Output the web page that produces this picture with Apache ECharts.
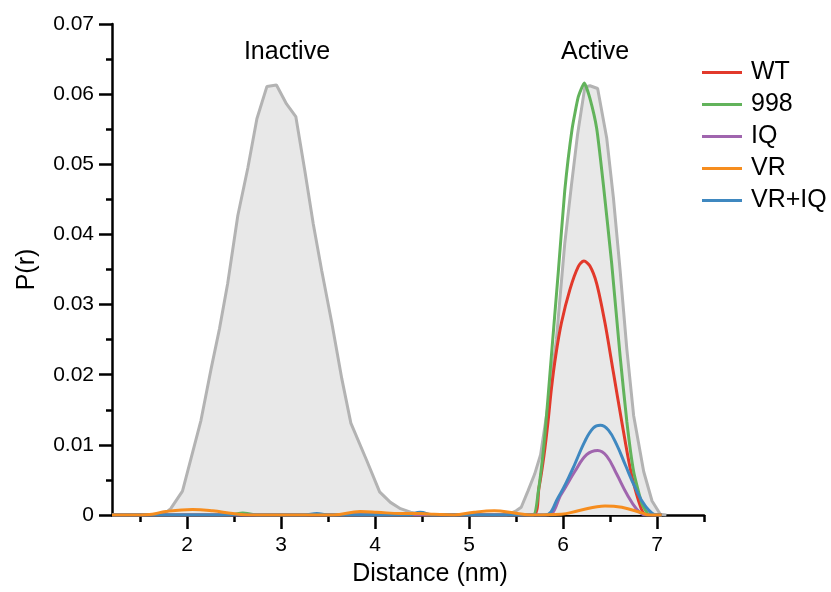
<!DOCTYPE html>
<html>
<head>
<meta charset="utf-8">
<script src="https://cdn.jsdelivr.net/npm/echarts@6/dist/echarts.min.js"></script>
<style>
html,body{margin:0;padding:0;background:#fff;}
#chart{width:831px;height:592px;}
</style>
</head>
<body>
<div id="chart"></div>
<script>
// ---- data (x in nm, y = P(r)) ----
const legendNames = ['WT', '998', 'IQ', 'VR', 'VR+IQ'];
const xTickLabels = [2, 3, 4, 5, 6, 7];
const xMinorTicks = [1.5, 2.5, 3.5, 4.5, 5.5, 6.5, 7.5];
const annotations = ['Inactive', 'Active'];

const envelope = [
  [1.2,0],[1.75,0.0001],[1.825,0.0009],[1.95,0.0034],[2.147,0.0135],[2.254,0.0208],
  [2.343,0.0265],[2.431,0.0330],[2.539,0.0427],[2.646,0.0495],[2.742,0.0565],
  [2.849,0.0611],[2.950,0.0613],[3.057,0.0586],[3.156,0.0568],[3.253,0.0490],
  [3.342,0.0415],[3.431,0.0349],[3.539,0.0274],[3.646,0.0194],[3.742,0.0131],
  [3.913,0.0077],[4.048,0.0033],[4.163,0.0018],[4.270,0.0009],[4.377,0.0004],
  [4.5,0.0001],[5.40,0],[5.501,0.0006],[5.555,0.0011],[5.626,0.0034],[5.697,0.0058],
  [5.761,0.0086],[5.840,0.0156],[5.929,0.0250],[6.018,0.0387],[6.090,0.0471],
  [6.154,0.0542],[6.232,0.0610],[6.286,0.0612],[6.368,0.0608],[6.465,0.0537],
  [6.536,0.0452],[6.607,0.0349],[6.679,0.0236],[6.751,0.0142],[6.858,0.0062],
  [6.947,0.0020],[7.035,0.0001],[7.1,0]
];

const wt = [
  [1.2,0],[5.68,0],[5.744,0.0039],[5.798,0.0086],[5.840,0.0133],[5.876,0.0180],
  [5.922,0.0227],[5.983,0.0274],[6.072,0.0321],[6.162,0.0354],[6.222,0.0362],
  [6.286,0.0355],[6.358,0.0330],[6.446,0.0274],[6.536,0.0203],[6.625,0.0133],
  [6.714,0.0067],[6.804,0.0020],[6.875,0.0001],[7.05,0]
];

const m998 = [
  [1.2,0],[2.45,0],[2.59,0.0003],[2.75,0],[5.68,0],[5.733,0.0030],[5.804,0.0110],
  [5.876,0.0227],[5.948,0.0344],[6.018,0.0462],[6.097,0.0551],[6.162,0.0596],
  [6.226,0.0616],[6.286,0.0594],[6.358,0.0551],[6.429,0.0471],[6.518,0.0358],
  [6.607,0.0227],[6.679,0.0133],[6.751,0.0062],[6.839,0.0016],[6.911,0.0001],[7.05,0]
];

const iq = [
  [1.2,0],[5.822,0],[5.983,0.0030],[6.125,0.0062],[6.251,0.0086],[6.368,0.0092],
  [6.465,0.0084],[6.572,0.0058],[6.679,0.0030],[6.786,0.0008],[6.875,0],[7.05,0]
];

const vr = [
  [1.2,0],[1.5,0],[1.628,0.0001],[1.772,0.0005],[2.057,0.0008],[2.271,0.0006],
  [2.485,0.0002],[2.664,0],[3.020,0],[3.556,0],[3.842,0.0005],[4.020,0.0004],
  [4.270,0.0002],[4.484,0.0002],[4.626,0.0001],[4.840,0],[5.054,0.0004],
  [5.268,0.0006],[5.483,0.0003],[5.662,0],[5.983,0.0001],[6.162,0.0006],
  [6.446,0.0013],[6.625,0.0011],[6.839,0.0003],[6.911,0],[7.05,0]
];

const vriq = [
  [1.2,0],[3.25,0],[3.38,0.0002],[3.5,0],[4.35,0],[4.48,0.0004],[4.62,0],
  [5.804,0],[5.948,0.0025],[6.090,0.0062],[6.232,0.0105],[6.322,0.0124],
  [6.397,0.0128],[6.483,0.0121],[6.572,0.0100],[6.661,0.0072],[6.768,0.0039],
  [6.875,0.0013],[7.0,0],[7.05,0]
];

const colors = {WT:'#e2392b','998':'#62b35b',IQ:'#a065ae',VR:'#f68d1e','VR+IQ':'#3f88c0'};
const FONT = '"Liberation Sans", Arial, Helvetica, sans-serif';

function lineSeries(name, data, smooth) {
  return {
    name: name, type: 'line', data: data, xAxisIndex: 0, yAxisIndex: 0,
    showSymbol: false, symbol: 'none', smooth: smooth,
    color: colors[name],
    lineStyle: {color: colors[name], width: 3},
    emphasis: {disabled: true}, z: 3
  };
}

const chart = echarts.init(document.getElementById('chart'), null, {renderer: 'canvas'});
chart.setOption({
  animation: false,
  backgroundColor: '#ffffff',
  textStyle: {fontFamily: FONT},
  grid: {left: 112, right: 127, top: 24, bottom: 71, containLabel: false},
  legend: {
    data: legendNames, orient: 'vertical', left: 697, top: 55,
    icon: 'rect', itemWidth: 40, itemHeight: 3, itemGap: 7,
    selectedMode: false,
    textStyle: {fontSize: 25, color: '#000', fontFamily: FONT, lineHeight: 25, padding: [0,0,0,4]}
  },
  xAxis: [{
    type: 'value', min: 1.2, max: 7.5,
    name: 'Distance (nm)', nameLocation: 'middle', nameGap: 47,
    nameTextStyle: {fontSize: 25, color: '#000', fontFamily: FONT, padding: [0,0,0,44]},
    axisLine: {show: true, onZero: false, lineStyle: {color: '#000', width: 2.5}},
    axisTick: {show: true, length: 14, customValues: xTickLabels, lineStyle: {color: '#000', width: 2.5}},
    axisLabel: {show: true, customValues: xTickLabels, fontSize: 21, color: '#000', margin: 20, fontFamily: FONT},
    splitLine: {show: false}
  }, {
    type: 'value', min: 1.2, max: 7.5, position: 'bottom',
    axisLine: {show: false},
    axisTick: {show: true, length: 7, customValues: xMinorTicks, lineStyle: {color: '#000', width: 2.5}},
    axisLabel: {show: false},
    splitLine: {show: false}
  }],
  yAxis: {
    type: 'value', min: 0, max: 0.07, interval: 0.01,
    name: 'P(r)', nameLocation: 'middle', nameGap: 72,
    nameTextStyle: {fontSize: 25, color: '#000', fontFamily: FONT},
    axisLine: {show: true, lineStyle: {color: '#000', width: 2.5}},
    axisTick: {show: true, length: 13, lineStyle: {color: '#000', width: 2.5}},
    minorTick: {show: true, splitNumber: 2, length: 6, lineStyle: {color: '#000', width: 2.5}},
    axisLabel: {fontSize: 21, color: '#000', margin: 18, fontFamily: FONT,
      formatter: function (v) { return v === 0 ? '0' : v.toFixed(2); }},
    splitLine: {show: false}
  },
  graphic: [
    {type: 'text', x: 287, y: 52, z: 10, style: {text: annotations[0], font: '25px ' + FONT, fill: '#000', align: 'center', verticalAlign: 'middle'}},
    {type: 'text', x: 595, y: 52, z: 10, style: {text: annotations[1], font: '25px ' + FONT, fill: '#000', align: 'center', verticalAlign: 'middle'}}
  ],
  series: [
    {
      name: 'envelope', type: 'line', data: envelope, showSymbol: false, symbol: 'none',
      lineStyle: {color: '#b3b3b3', width: 3},
      areaStyle: {color: '#e8e8e8', opacity: 1},
      emphasis: {disabled: true}, z: 1
    },
    lineSeries('WT', wt, 0.3),
    lineSeries('998', m998, 0.15),
    lineSeries('IQ', iq, 0.4),
    lineSeries('VR+IQ', vriq, 0.4),
    lineSeries('VR', vr, 0.4)
  ]
});
</script>
</body>
</html>
